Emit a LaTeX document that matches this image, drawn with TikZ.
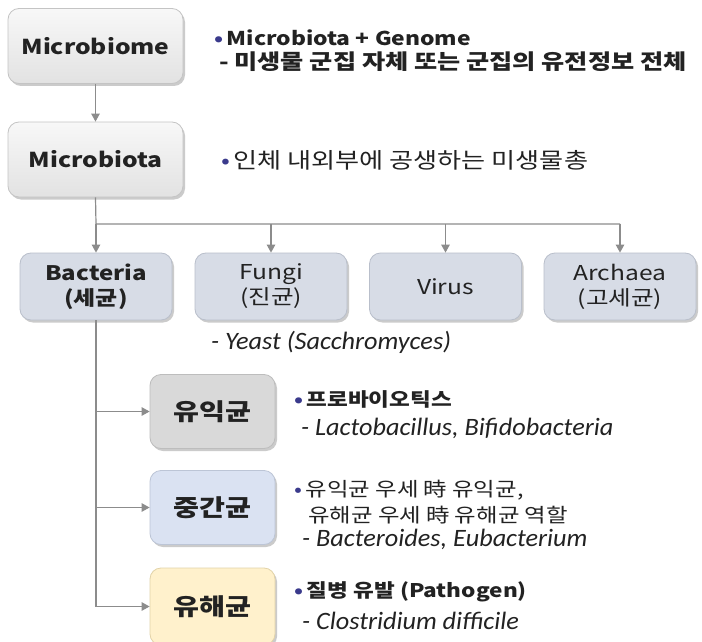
\documentclass[tikz,border=0pt]{standalone}
\usepackage{fontspec}
\setmainfont{Noto Sans CJK KR}[FakeStretch=1.2]
\newfontfamily\itfont{Carlito}[FakeStretch=1.05]
\usetikzlibrary{shadows,arrows.meta}
\definecolor{lineg}{HTML}{8C8C8C}
\definecolor{bul}{HTML}{3A3A8C}
\definecolor{topfill}{HTML}{EDEDED}
\definecolor{topdraw}{HTML}{C4C4C4}
\definecolor{midfill}{HTML}{D7DCE6}
\definecolor{middraw}{HTML}{B9BFCB}
\definecolor{goodfill}{HTML}{D9D9D9}
\definecolor{gooddraw}{HTML}{BDBDBD}
\definecolor{neutfill}{HTML}{DAE2F2}
\definecolor{neutdraw}{HTML}{BCC5D6}
\definecolor{badfill}{HTML}{FFF1CC}
\definecolor{baddraw}{HTML}{E2D3A8}
\definecolor{txt}{HTML}{222222}
\tikzset{
  boxbase/.style={rounded corners=11pt, line width=0.8pt, align=center, text=txt,
    drop shadow={shadow xshift=2pt, shadow yshift=-2.5pt, fill=black!45, opacity=0.45}},
  topbox/.style={boxbase, draw=topdraw, top color=white!60!topfill, bottom color=topfill!90!gray,
    minimum width=175pt, minimum height=75pt, font=\fontsize{20.5}{24}\selectfont\bfseries},
  kindbox/.style={boxbase, draw=middraw, fill=midfill,
    minimum width=152pt, minimum height=67pt, font=\fontsize{20.5}{25}\selectfont},
  grpbox/.style={boxbase, minimum width=125pt, minimum height=74pt,
    font=\fontsize{23.5}{28}\selectfont\bfseries},
  conn/.style={draw=lineg, line width=1.2pt},
  arr/.style={conn, -{Triangle[length=8pt,width=8.5pt]}},
  desc/.style={anchor=west, inner sep=0pt, text=txt, font=\fontsize{19.5}{22}\selectfont},
  bdesc/.style={anchor=west, inner sep=0pt, text=txt, font=\fontsize{18.8}{22}\selectfont\bfseries},
  itdesc/.style={anchor=west, inner sep=0pt, text=txt, font=\fontsize{25}{28}\selectfont\itfont\itshape},
}
\newcommand{\bdot}{{\color{bul}\textbullet}\hspace{3.5pt}}
\begin{document}
\begin{tikzpicture}[x=1pt,y=-1pt]
\path[use as bounding box, fill=white] (0,0) rectangle (702,642);
% top boxes
\node[topbox] (mbiome) at (95.5,46) {Microbiome};
\node[topbox] (mbiota) at (95.5,159.5) {Microbiota};
\node[bdesc, font=\fontsize{19}{22}\selectfont\bfseries] (t1) at (214,38) {\bdot Microbiota + Genome};
\node[bdesc, font=\fontsize{21}{24}\selectfont\bfseries] (t2) at (219,62) {- 미생물 군집 자체 또는 군집의 유전정보 전체};
\node[desc, font=\fontsize{21.8}{26}\selectfont] (t3) at (221,160) {\bdot 인체 내외부에 공생하는 미생물총};
\draw[arr] (mbiome) -- (mbiota);
% kinds
\node[kindbox, font=\fontsize{20}{25}\selectfont\bfseries] (bact) at (96,286.5) {Bacteria\\(세균)};
\node[kindbox] (fungi) at (271,286.5) {Fungi\\(진균)};
\node[kindbox] (virus) at (445.5,286.5) {Virus};
\node[kindbox] (arch) at (620,286.5) {Archaea\\(고세균)};
\coordinate (j0) at (96,224);
\coordinate (j1) at (fungi.north |- j0);
\coordinate (j2) at (virus.north |- j0);
\coordinate (j3) at (arch.north |- j0);
\draw[conn] (mbiota.south) -- (j0) -- (j3);
\draw[arr] (j0) -- (bact.north);
\draw[arr] (j1) -- (fungi.north);
\draw[arr] (j2) -- (virus.north);
\draw[arr] (j3) -- (arch.north);
\node[itdesc] (yeast) at (211,342) {- Yeast (Sacchromyces)};
% groups
\node[grpbox, draw=gooddraw, fill=goodfill] (good) at (212.5,411.5) {유익균};
\node[grpbox, draw=neutdraw, fill=neutfill] (neut) at (212.5,507.5) {중간균};
\node[grpbox, draw=baddraw, fill=badfill, minimum height=77pt] (bad) at (212.5,606.5) {유해균};
\coordinate (b1) at (bact.south |- good.west);
\coordinate (b2) at (bact.south |- neut.west);
\coordinate (b3) at (bact.south |- bad.west);
\draw[conn] (bact.south) -- (b3);
\draw[arr] (b1) -- (good.west);
\draw[arr] (b2) -- (neut.west);
\draw[arr] (b3) -- (bad.west);
% group descriptions
\node[bdesc] (g1) at (294,399) {\bdot 프로바이오틱스};
\node[itdesc] (g2) at (301,428) {- Lactobacillus, Bifidobacteria};
\node[desc] (n1) at (294,490) {\bdot 유익균 우세 時 유익균,};
\node[desc] (n2) at (308,515) {유해균 우세 時 유해균 역할};
\node[itdesc] (n3) at (302,539) {- Bacteroides, Eubacterium};
\node[bdesc] (d1) at (294,592) {\bdot 질병 유발 (Pathogen)};
\node[itdesc] (d2) at (302,621) {- Clostridium difficile};
\end{tikzpicture}
\end{document}
